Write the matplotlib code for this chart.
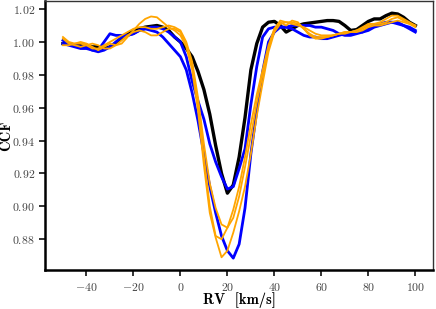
import matplotlib
matplotlib.use("Agg")
import matplotlib.pyplot as plt
from matplotlib.ticker import MultipleLocator, FuncFormatter
import numpy as np

plt.rcParams['mathtext.fontset'] = 'cm'
plt.rcParams['font.family'] = 'serif'

# RV grid (km/s), sampled every 2.5 km/s
rv = np.arange(-50, 100.1, 2.5)

# CCF profiles
ccf_black = [0.999, 0.999, 0.998, 0.998, 0.998, 0.997, 0.997, 0.996, 0.997, 0.999,
             1.002, 1.005, 1.007, 1.008, 1.009, 1.0095, 1.010, 1.009, 1.007, 1.003,
             1.000, 0.996, 0.991, 0.982, 0.971, 0.956, 0.937, 0.920, 0.908, 0.913,
             0.930, 0.954, 0.983, 0.999, 1.009, 1.012, 1.0125, 1.010, 1.006, 1.008,
             1.010, 1.011, 1.0115, 1.012, 1.0125, 1.013, 1.013, 1.0125, 1.010, 1.007,
             1.0075, 1.010, 1.0125, 1.014, 1.014, 1.016, 1.0175, 1.017, 1.015, 1.012,
             1.010]

ccf_blue_deep = [1.001, 0.999, 0.998, 0.997, 0.997, 0.995, 0.994, 0.995, 0.997, 1.000,
                 1.003, 1.004, 1.005, 1.007, 1.008, 1.007, 1.006, 1.003, 0.999, 0.995,
                 0.991, 0.983, 0.969, 0.952, 0.932, 0.912, 0.896, 0.882, 0.873, 0.8685,
                 0.877, 0.899, 0.932, 0.958, 0.982, 1.000, 1.006, 1.009, 1.009, 1.008,
                 1.006, 1.004, 1.003, 1.003, 1.002, 1.002, 1.003, 1.004, 1.005, 1.005,
                 1.006, 1.006, 1.007, 1.009, 1.010, 1.011, 1.012, 1.012, 1.010, 1.008,
                 1.006]

ccf_blue_shallow = [0.999, 0.998, 0.997, 0.996, 0.996, 0.995, 0.995, 1.000, 1.005, 1.004,
                    1.004, 1.004, 1.005, 1.007, 1.008, 1.009, 1.009, 1.008, 1.006, 1.003,
                    1.000, 0.991, 0.976, 0.964, 0.953, 0.938, 0.927, 0.918, 0.9105, 0.912,
                    0.923, 0.935, 0.962, 0.985, 1.003, 1.008, 1.009, 1.009, 1.009, 1.010,
                    1.010, 1.010, 1.010, 1.009, 1.009, 1.008, 1.007, 1.005, 1.004, 1.004,
                    1.005, 1.006, 1.008, 1.010, 1.011, 1.012, 1.012, 1.011, 1.010, 1.009,
                    1.007]

ccf_orange_1 = [1.003, 1.000, 0.999, 1.000, 0.999, 0.997, 0.995, 0.997, 0.999, 0.998,
                0.999, 1.003, 1.007, 1.011, 1.014, 1.0155, 1.015, 1.012, 1.009, 1.007,
                1.004, 0.997, 0.983, 0.958, 0.925, 0.896, 0.881, 0.869, 0.873, 0.884,
                0.897, 0.912, 0.932, 0.955, 0.975, 0.994, 1.006, 1.011, 1.012, 1.012,
                1.011, 1.008, 1.005, 1.003, 1.003, 1.003, 1.004, 1.005, 1.006, 1.006,
                1.007, 1.008, 1.010, 1.011, 1.012, 1.014, 1.016, 1.016, 1.014, 1.012,
                1.010]

ccf_orange_2 = [1.002, 0.999, 0.998, 0.997, 0.998, 0.999, 0.998, 0.996, 0.996, 0.998,
                1.001, 1.004, 1.006, 1.007, 1.006, 1.004, 1.004, 1.006, 1.008, 1.008,
                1.006, 0.998, 0.986, 0.962, 0.930, 0.900, 0.882, 0.880, 0.887, 0.898,
                0.912, 0.930, 0.950, 0.968, 0.983, 0.998, 1.008, 1.012, 1.010, 1.013,
                1.012, 1.008, 1.004, 1.002, 1.002, 1.003, 1.004, 1.005, 1.005, 1.006,
                1.007, 1.009, 1.011, 1.011, 1.011, 1.012, 1.014, 1.015, 1.013, 1.011,
                1.009]

ccf_orange_3 = [0.998, 0.998, 0.999, 0.999, 0.998, 0.996, 0.996, 0.998, 1.000, 1.002,
                1.004, 1.006, 1.008, 1.009, 1.009, 1.008, 1.008, 1.009, 1.010, 1.009,
                1.007, 1.000, 0.988, 0.966, 0.938, 0.914, 0.899, 0.889, 0.887, 0.893,
                0.906, 0.924, 0.943, 0.963, 0.980, 0.996, 1.008, 1.013, 1.012, 1.011,
                1.010, 1.009, 1.007, 1.005, 1.004, 1.004, 1.004, 1.005, 1.006, 1.006,
                1.006, 1.007, 1.009, 1.010, 1.010, 1.011, 1.012, 1.013, 1.012, 1.011,
                1.010]

fig, ax = plt.subplots(figsize=(4.36, 3.09), dpi=100)
fig.subplots_adjust(left=0.104, right=0.993, top=0.997, bottom=0.125)

ax.plot(rv, ccf_black, color='black', lw=2.4)
ax.plot(rv, ccf_blue_shallow, color='blue', lw=2.0)
ax.plot(rv, ccf_blue_deep, color='blue', lw=2.0)
for ccf in [ccf_orange_1, ccf_orange_2, ccf_orange_3]:
    ax.plot(rv, ccf, color='orange', lw=1.3)

ax.xaxis.set_major_locator(MultipleLocator(20))
ax.yaxis.set_major_locator(MultipleLocator(0.02))
ax.xaxis.set_major_formatter(FuncFormatter(lambda v, p: r'$%d$' % round(v)))
ax.yaxis.set_major_formatter(FuncFormatter(lambda v, p: r'$%.2f$' % v))
ax.tick_params(labelsize=8.5, width=1.3, length=4, colors='#222222', labelcolor='#444444')

for side in ['left', 'bottom']:
    ax.spines[side].set_linewidth(1.8)
    ax.spines[side].set_color('black')
for side in ['top', 'right']:
    ax.spines[side].set_linewidth(1.0)
    ax.spines[side].set_color('#333333')

ax.set_xlabel('RV  [km/s]', family='cmb10', fontsize=10.5, labelpad=-1.5)
ax.set_ylabel('CCF', family='cmb10', fontsize=10.5, labelpad=-0.5)

fig.savefig('out.png', dpi=100)
